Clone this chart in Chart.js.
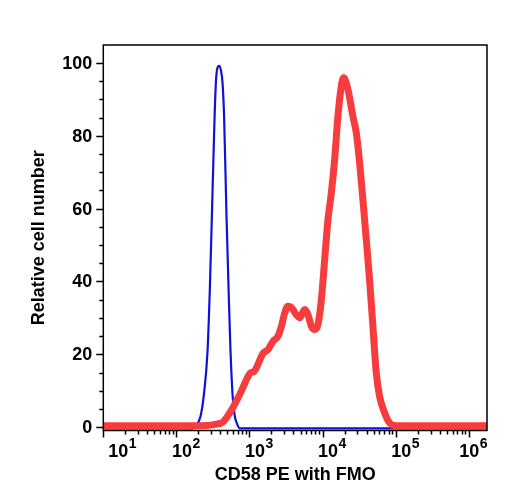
<!DOCTYPE html>
<html>
<head>
<meta charset="utf-8">
<script src="https://cdn.jsdelivr.net/npm/chart.js@4"></script>
<style>
  html, body { margin: 0; padding: 0; background: #fff; }
  canvas { display: block; }
</style>
</head>
<body>
<canvas id="histo" width="508" height="500"></canvas>
<script>
// FMO control (blue) - intensity / relative count
var fmoX = [10, 153, 168, 191, 214, 238, 267, 287, 306, 333, 347, 363, 384, 406, 428, 450, 485, 521, 550, 591, 630, 681, 736, 1778279];
var fmoY = [-0.3, -0.3, -0.3, 0.8, 3, 9, 21, 38, 58, 85, 94.5, 98.5, 99.2, 98, 94.5, 85, 58, 36, 21, 8, 3, 0.8, -0.3, -0.3];

// CD58 PE stained (red)
var cd58X = [10, 112, 259, 336, 436, 597, 778, 1009, 1181, 1535, 1796, 2100, 2459, 2737, 3035, 3366, 3748, 4386, 4867, 5694, 6318, 7031, 7800, 8654, 9633, 10690, 11860, 13190, 14630, 16230, 18060, 19420, 22220, 26010, 28960, 32130, 35640, 39640, 43970, 48840, 54330, 60260, 70490, 82560, 101900, 1778279];
var cd58Y = [0.4, 0.4, 0.5, 0.8, 1.5, 5.5, 10, 14.7, 15.5, 20.3, 21.3, 23.6, 25, 27.7, 31.4, 33.2, 32.8, 30.9, 30, 32.3, 30.9, 27.7, 26.8, 28.2, 35, 46, 57, 64.3, 73.5, 85.3, 93.6, 95.9, 92.7, 85.3, 80.8, 72.6, 62.5, 51.5, 40.5, 27.7, 14.9, 8.5, 4, 1.2, 0.4, 0.4];

var xTitle = 'CD58 PE with FMO';
var yTitle = 'Relative cell number';
var yLabelStep = 20;
var yMinorStep = 5;

function toPoints(xs, ys) {
  return xs.map(function(x, i) { return {x: x, y: ys[i]}; });
}

var FONT = '"Liberation Sans", Arial, Helvetica, sans-serif';

// frame, tick marks and tick labels (log labels need superscripts)
var axesPlugin = {
  id: 'axesPlugin',
  afterDraw: function(chart) {
    var ctx = chart.ctx;
    var a = chart.chartArea;
    var xs = chart.scales.x, ys = chart.scales.y;
    ctx.save();
    ctx.strokeStyle = '#000';
    ctx.fillStyle = '#000';
    ctx.lineWidth = 1.5;
    ctx.strokeRect(a.left, a.top, a.right - a.left, a.bottom - a.top);

    // x ticks
    ctx.beginPath();
    xs.ticks.forEach(function(t) {
      var v = t.value;
      if (v < xs.min || v > xs.max) return;
      var e = Math.floor(Math.log10(v) + 1e-9);
      var m = v / Math.pow(10, e);
      if (Math.abs(m - Math.round(m)) > 1e-6) return;
      var px = Math.round(xs.getPixelForValue(v)) + 0.5;
      var len = Math.round(m) === 1 ? 7 : 4;
      ctx.moveTo(px, a.bottom);
      ctx.lineTo(px, a.bottom + len);
    });
    // y ticks every 5, labels every 20
    var yVals = [];
    for (var v = Math.ceil(ys.min / yMinorStep) * yMinorStep; v <= ys.max; v += yMinorStep) yVals.push(v);
    yVals.forEach(function(v) {
      var py = Math.round(ys.getPixelForValue(v)) + 0.5;
      var len = v % yLabelStep === 0 ? 7 : 4;
      ctx.moveTo(a.left, py);
      ctx.lineTo(a.left - len, py);
    });
    ctx.stroke();

    // y labels
    ctx.font = 'bold 18px ' + FONT;
    ctx.textAlign = 'right';
    ctx.textBaseline = 'middle';
    yVals.forEach(function(v) {
      if (v % yLabelStep !== 0) return;
      ctx.fillText(String(v), a.left - 11, ys.getPixelForValue(v) + 1);
    });

    // x labels 10^n
    ctx.textAlign = 'left';
    ctx.textBaseline = 'alphabetic';
    xs.ticks.forEach(function(t) {
      var v = t.value;
      var e = Math.log10(v);
      if (Math.abs(e - Math.round(e)) > 1e-9) return;
      e = Math.round(e);
      var px = xs.getPixelForValue(v);
      ctx.font = 'bold 18px ' + FONT;
      var bw = ctx.measureText('10').width;
      ctx.font = 'bold 14px ' + FONT;
      var ew = ctx.measureText(String(e)).width;
      var left = px - 4.5;
      if (left < a.left + 5) left = a.left + 5;
      if (left + bw + ew > a.right) left = a.right - bw - ew;
      ctx.font = 'bold 18px ' + FONT;
      ctx.fillText('10', left, 457);
      ctx.font = 'bold 14px ' + FONT;
      ctx.fillText(String(e), left + bw + 0.5, 448);
    });
    ctx.restore();
  }
};

var ctx = document.getElementById('histo').getContext('2d');
var chart = new Chart(ctx, {
  type: 'line',
  data: {
    datasets: [{
      label: 'CD58 PE',
      data: toPoints(cd58X, cd58Y),
      borderColor: '#f63c3c',
      borderWidth: 7,
      pointRadius: 0,
      cubicInterpolationMode: 'monotone',
      borderJoinStyle: 'round',
      borderCapStyle: 'round'
    }, {
      label: 'FMO',
      data: toPoints(fmoX, fmoY),
      borderColor: '#1010d8',
      borderWidth: 2.2,
      pointRadius: 0,
      cubicInterpolationMode: 'monotone'
    }]
  },
  options: {
    responsive: false,
    animation: false,
    devicePixelRatio: 1,
    layout: { padding: { top: 45, right: 21, left: 0, bottom: 0 } },
    plugins: {
      legend: { display: false },
      tooltip: { enabled: false }
    },
    scales: {
      x: {
        type: 'logarithmic',
        min: 10,
        max: 1778279,
        grid: { display: false },
        border: { display: false },
        ticks: { display: false, autoSkip: false },
        title: {
          display: true,
          text: xTitle,
          color: '#000',
          font: { family: FONT, size: 18, weight: 'bold' },
          padding: { top: 0, bottom: 14.5 }
        },
        afterFit: function(scale) { scale.height = 69.5; }
      },
      y: {
        type: 'linear',
        min: -0.9,
        max: 104.9,
        grid: { display: false },
        border: { display: false },
        ticks: { display: false, stepSize: 5 },
        title: {
          display: true,
          text: yTitle,
          color: '#000',
          font: { family: FONT, size: 18, weight: 'bold' },
          padding: { top: 28.5, bottom: 0 }
        },
        afterFit: function(scale) { scale.width = 103.3; }
      }
    }
  },
  plugins: [axesPlugin]
});
</script>
</body>
</html>
